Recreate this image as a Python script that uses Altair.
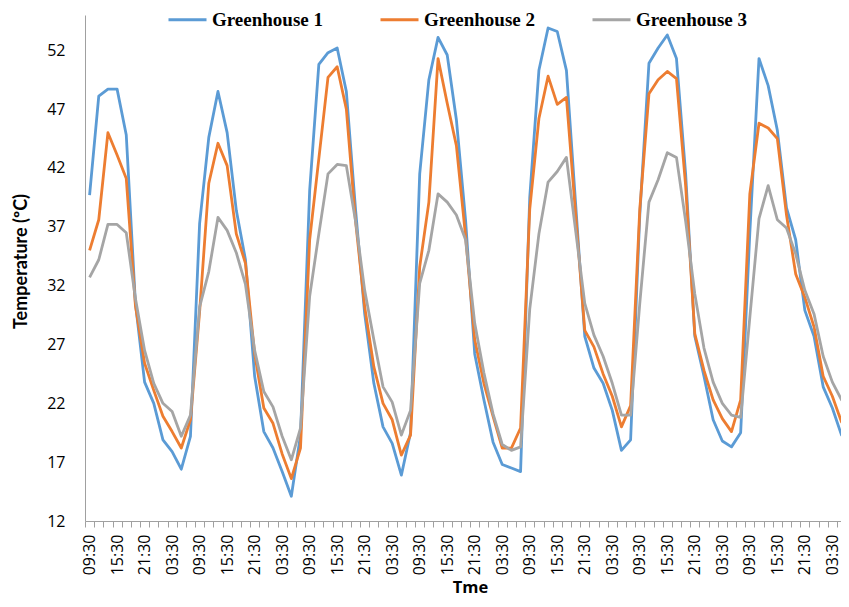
import altair as alt
import pandas as pd

# ---------------- data ----------------
series = ["Greenhouse 1", "Greenhouse 2", "Greenhouse 3"]
colors = ["#5B9BD5", "#ED7D31", "#A5A5A5"]

gh1 = [39.7, 48.1, 48.7, 48.7, 44.8, 30.5, 23.8, 22.0, 18.9, 17.9, 16.4, 19.2,
       37.3, 44.6, 48.5, 45.0, 38.4, 34.2, 24.3, 19.6, 18.2, 16.2, 14.1, 19.3,
       40.1, 50.8, 51.8, 52.2, 48.5, 38.5, 29.6, 23.7, 20.0, 18.6, 15.9, 19.5,
       41.5, 49.5, 53.1, 51.6, 46.1, 37.6, 26.2, 22.3, 18.7, 16.8, 16.5, 16.2,
       39.5, 50.3, 53.9, 53.6, 50.3, 39.0, 27.7, 25.0, 23.7, 21.4, 18.0, 18.9,
       38.0, 50.9, 52.2, 53.3, 51.3, 41.5, 27.7, 24.3, 20.6, 18.8, 18.3, 19.5,
       36.5, 51.3, 49.0, 45.2, 38.6, 35.9, 29.9, 27.7, 23.4, 21.6, 19.3, 20.3]
gh2 = [35.0, 37.6, 45.0, 43.1, 41.1, 30.3, 25.4, 23.1, 20.9, 19.6, 18.2, 20.6,
       29.8, 40.7, 44.1, 42.2, 36.4, 33.9, 26.2, 21.6, 20.3, 17.7, 15.6, 18.2,
       35.9, 42.8, 49.7, 50.6, 47.0, 37.5, 30.2, 25.1, 22.0, 20.6, 17.6, 19.3,
       33.6, 39.1, 51.3, 47.5, 43.9, 36.2, 27.4, 23.7, 20.9, 18.2, 18.2, 19.9,
       38.5, 46.2, 49.8, 47.4, 48.0, 38.1, 28.2, 26.8, 24.5, 22.6, 20.0, 21.8,
       38.5, 48.3, 49.5, 50.2, 49.6, 40.5, 27.9, 24.8, 22.3, 20.7, 19.6, 22.3,
       39.8, 45.8, 45.4, 44.5, 38.0, 33.0, 31.0, 28.5, 24.3, 22.6, 20.4, 28.2]
gh3 = [32.7, 34.2, 37.2, 37.2, 36.5, 30.9, 26.5, 23.7, 22.0, 21.3, 19.2, 21.0,
       30.2, 33.2, 37.8, 36.7, 34.8, 32.1, 26.5, 23.0, 21.7, 19.2, 17.2, 19.9,
       31.1, 36.4, 41.5, 42.3, 42.2, 37.5, 31.6, 27.4, 23.4, 22.1, 19.3, 21.4,
       32.2, 35.0, 39.8, 39.1, 38.0, 35.9, 28.8, 24.6, 21.1, 18.5, 18.0, 18.3,
       30.0, 36.4, 40.8, 41.7, 42.9, 36.7, 30.5, 27.8, 26.0, 23.7, 21.0, 21.0,
       30.5, 39.1, 41.0, 43.3, 42.9, 37.5, 31.3, 26.7, 23.8, 22.0, 21.0, 20.8,
       29.3, 37.7, 40.5, 37.6, 36.9, 34.7, 31.6, 29.6, 26.0, 23.8, 22.3, 21.7]

tick_labels = ["09:30", "15:30", "21:30", "03:30"]   # shown every 3rd category
label_every = 3
y_ticks = [12, 17, 22, 27, 32, 37, 42, 47, 52]

rows = []
for name, vals in zip(series, [gh1, gh2, gh3]):
    for i, v in enumerate(vals):
        rows.append({"i": i, "temp": v, "series": name})
df = pd.DataFrame(rows)

# ---------------- layout ----------------
band_px = 9.17            # pixels per category, as in the reference
W, H = 756, 506
X0 = -0.5
X1 = X0 + W / band_px
n = len(gh1)
boundaries = [k - 0.5 for k in range(n) if k - 0.5 <= X1]
arr = "[" + ",".join(f"'{t}'" for t in tick_labels) + "]"
label_expr = (f"((datum.value + 0.5) % {label_every} == 0) ? "
              f"{arr}[((datum.value + 0.5) / {label_every}) % {len(tick_labels)}] : ''")

axis_gray = "#a0a0a0"

x_axis = alt.Axis(values=boundaries, labelExpr=label_expr, labelAngle=270,
                  labelAlign="right", labelBaseline="middle", labelOffset=band_px / 2,
                  tickSize=6, tickColor=axis_gray, domainColor=axis_gray, labelPadding=7,
                  labelFont="Open Sans", labelFontSize=16, labelColor="black",
                  labelOverlap=False, labelFlush=False, labelBound=False, grid=False,
                  title="Tme", titleFont="Open Sans", titleFontSize=16.5,
                  titleFontWeight="bold", titleColor="black", titlePadding=5,
                  titleX=385)

y_axis = alt.Axis(values=y_ticks, ticks=False, labelPadding=20, labelFont="Open Sans",
                  labelFontSize=16, labelColor="black", grid=False, domainColor=axis_gray,
                  title="Temperature (ºC)", titleFont="Lato", titleFontSize=18,
                  titleFontWeight="bold", titleColor="black", titlePadding=16,
                  titleY=246)

legend = alt.Legend(title=None, orient="none", legendX=82, legendY=-16,
                    direction="horizontal", symbolType="stroke", symbolSize=1444,
                    symbolStrokeWidth=3, labelFont="Liberation Serif", labelFontSize=19,
                    labelFontWeight="bold", labelColor="black", labelOffset=4,
                    columnPadding=50, padding=0, labelLimit=0)

chart = alt.Chart(df).mark_line(strokeWidth=2.8, clip=True, strokeJoin="round").encode(
    x=alt.X("i:Q", scale=alt.Scale(domain=[X0, X1], nice=False, zero=False), axis=x_axis),
    y=alt.Y("temp:Q", scale=alt.Scale(domain=[12, 55], nice=False, zero=False), axis=y_axis),
    color=alt.Color("series:N", scale=alt.Scale(domain=series, range=colors), legend=legend),
    order="i:Q",
).properties(
    width=W, height=H,
    autosize=alt.AutoSizeParams(type="none"),
    padding={"left": 77, "top": 7, "right": 0, "bottom": 78},
    background="white",
).configure_view(stroke=None)

chart.save("out.html", embed_options={"renderer": "svg", "actions": False})
